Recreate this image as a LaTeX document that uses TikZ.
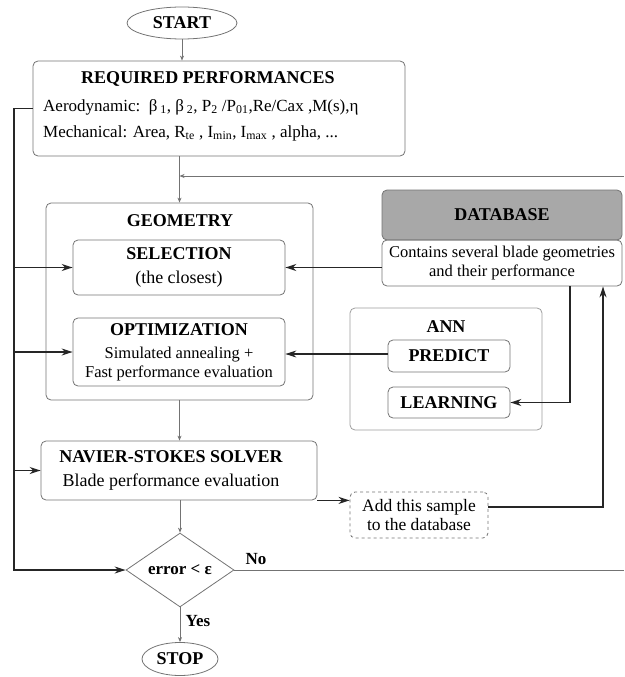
\documentclass[tikz,border=0pt]{standalone}
\usepackage{fontspec}
\setmainfont{Liberation Serif}
\usetikzlibrary{shapes.geometric,arrows.meta}
\definecolor{boxline}{gray}{0.45}
\definecolor{dbgray}{gray}{0.66}
\definecolor{wire}{gray}{0.15}
\begin{document}
\begin{tikzpicture}[x=1pt,y=-1pt,
  box/.style={draw=boxline,line width=0.8pt,rounded corners=5pt,inner sep=0pt},
  ttl/.style={font=\fontsize{18}{24}\selectfont\bfseries,inner sep=0pt,align=center},
  txt/.style={font=\fontsize{18}{24}\selectfont,inner sep=0pt,align=center},
  small/.style={font=\fontsize{16.5}{19}\selectfont,inner sep=0pt,align=center},
  oval/.style={draw=boxline,ellipse,line width=0.8pt,inner sep=0pt},
  thin/.style={draw=boxline,line width=0.8pt},
  heavy/.style={draw=wire,line width=1.6pt},
  midw/.style={draw=wire,line width=1.1pt},
  tip/.style={-{Stealth[length=11pt,width=7pt,inset=3.5pt]}},
  stip/.style={-{Stealth[length=5pt,width=4pt,inset=1.5pt]}},
]
\useasboundingbox (0,0) rectangle (624,677);

% terminals
\node[oval,minimum width=110pt,minimum height=32pt,font=\fontsize{18}{20}\selectfont\bfseries] (start) at (182,23) {START};
\node[oval,minimum width=76pt,minimum height=33pt,font=\fontsize{18}{20}\selectfont\bfseries] (stop) at (180,659) {STOP};

% requirements
\node[box,minimum width=372pt,minimum height=95pt] (req) at (219,108.5) {};
\node[ttl] (reqt) at (208,79) {REQUIRED PERFORMANCES};
\node[txt,anchor=west,font=\fontsize{17}{20}\selectfont] (aero) at (43,107)
  {Aerodynamic:\enspace β\,\textsubscript{1}, β\,\textsubscript{2}, P\textsubscript{2} /P\textsubscript{01},Re/Cax ,M(s),η};
\node[txt,anchor=west,font=\fontsize{17}{20}\selectfont] (mech) at (43,133)
  {Mechanical: Area, R\textsubscript{te} , I\textsubscript{min}, I\textsubscript{max} , alpha, ...};

% geometry block
\node[box,minimum width=267pt,minimum height=197pt] (geo) at (179.5,301.5) {};
\node[ttl] (geot) at (180,221) {GEOMETRY};
\node[box,minimum width=212pt,minimum height=55pt,txt] (sel) at (179,267.5)
  {\textbf{SELECTION}\\(the closest)};
\node[box,minimum width=212pt,minimum height=68pt] (opt) at (179,352) {};
\node[ttl] (optt) at (179,330) {OPTIMIZATION};
\node[small] (optd) at (179,364) {Simulated annealing +\\Fast performance evaluation};

% database
\node[box,fill=dbgray,minimum width=240pt,minimum height=50pt,ttl] (dbh) at (502,215) {DATABASE};
\node[box,minimum width=240pt,minimum height=46pt,small] (dbb) at (502,263)
  {Contains several blade geometries\\and their performance};

% neural network
\node[box,draw=boxline!70,minimum width=192pt,minimum height=122pt] (ann) at (446,369) {};
\node[ttl] (annt) at (446,327) {ANN};
\node[box,minimum width=122pt,minimum height=32pt,ttl] (pred) at (449,356) {PREDICT};
\node[box,minimum width=122pt,minimum height=31pt,ttl] (learn) at (449,402.5) {LEARNING};

% solver
\node[box,minimum width=276pt,minimum height=59pt] (ns) at (179,470.5) {};
\node[txt] (nst) at (171,470) {\textbf{NAVIER-STOKES SOLVER}\\Blade performance evaluation};

% new sample
\node[box,dashed,minimum width=138pt,minimum height=46pt,txt,font=\fontsize{17.5}{19}\selectfont] (add) at (419,515)
  {Add this sample\\to the database};

% convergence test
\node[draw=boxline,line width=0.8pt,diamond,minimum width=108pt,minimum height=72pt,inner sep=0pt,
  font=\fontsize{17}{20}\selectfont\bfseries] (err) at (180,570) {error < ε};
\node[font=\fontsize{17}{20}\selectfont\bfseries] (no) at (256,559) {No};
\node[font=\fontsize{17}{20}\selectfont\bfseries] (yes) at (198,621) {Yes};

% helper coordinates
\coordinate (redge) at (624,176);
\coordinate (nedge) at (624,570);
\coordinate (fb) at (14,570);
\coordinate (dbx) at (570,0);
\coordinate (upx) at (603,0);

% connectors
\draw[thin,stip] (start.south) -- (start.south |- req.north);
\draw[thin,stip] (req.south -| geo.north) -- (geo.north);
\draw[thin,stip] (redge) -- (redge -| geo.north);
\draw[thin,stip] (geo.south) -- (geo.south |- ns.north);
\draw[thin,stip] (ns.south -| err.north) -- (err.north);
\draw[thin,stip] (err.south) -- (stop.north);
\draw[thin] (err.east) -- (nedge);

\draw[heavy,tip] (req.west) -| (fb) -- (err.west);
\draw[heavy,tip] (fb |- sel.west) -- (sel.west);
\draw[heavy,tip] (fb |- opt.west) -- (opt.west);
\draw[heavy,tip] (fb |- ns.west) -- (ns.west);

\draw[heavy,tip] (dbb.west |- sel.east) -- (sel.east);
\draw[midw,tip] ([yshift=2pt]pred.west) -- ([yshift=2pt]pred.west -| opt.east);
\draw[heavy,tip] (dbb.south -| dbx) |- (learn.east);
\draw[heavy,tip] (ns.south east) -- (ns.south east -| add.west);
\draw[heavy,tip] ([yshift=8pt]add.east) -| (dbb.south -| upx);
\end{tikzpicture}
\end{document}
